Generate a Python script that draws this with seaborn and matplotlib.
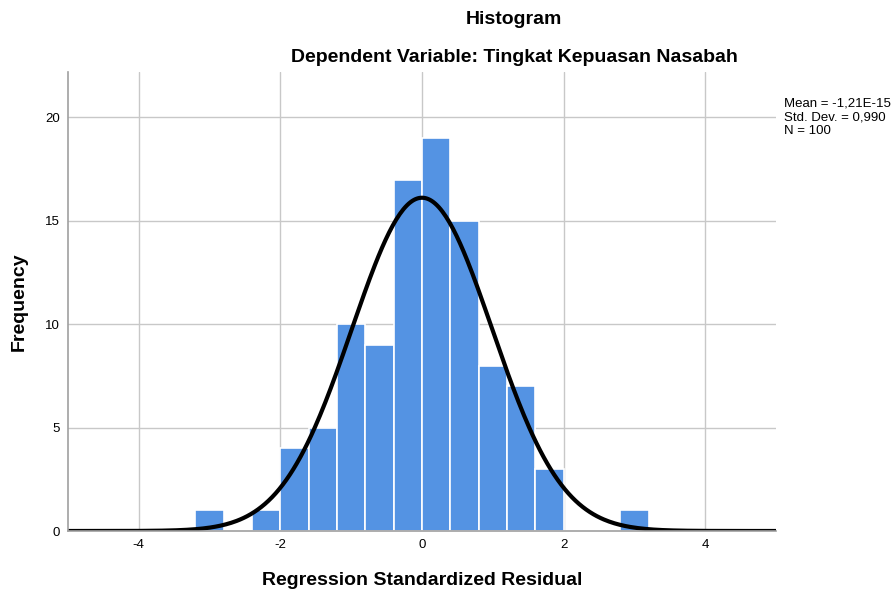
import numpy as np
import pandas as pd
import matplotlib
matplotlib.use("Agg")
import matplotlib.pyplot as plt
import seaborn as sns

# data
bin_edges = [-3.2, -2.8, -2.4, -2.0, -1.6, -1.2, -0.8, -0.4, 0.0, 0.4, 0.8, 1.2, 1.6, 2.0, 2.4, 2.8, 3.2]
counts = [1, 0, 1, 4, 5, 10, 9, 17, 19, 15, 8, 7, 3, 0, 0, 1]
mean_val = -1.21e-15
std_val = 0.990
n_obs = 100
x_ticks = [-4, -2, 0, 2, 4]
y_ticks = [0, 5, 10, 15, 20]

centers = [(a + b) / 2 for a, b in zip(bin_edges[:-1], bin_edges[1:])]
df = pd.DataFrame({"resid": centers, "freq": counts})

sns.set_style("white")
plt.rcParams["font.family"] = ["Liberation Sans", "DejaVu Sans"]
plt.rcParams["axes.unicode_minus"] = False
for k in ["text.color", "axes.labelcolor", "xtick.color", "ytick.color"]:
    plt.rcParams[k] = "black"

fig = plt.figure(figsize=(8.92, 5.93), dpi=100)
ax = fig.add_axes([68 / 892, 1 - 531 / 593, (776 - 68) / 892, (531 - 72) / 593])

ax.set_axisbelow(True)
ax.grid(True, color="#c8c8c8", linewidth=1)

sns.histplot(data=df, x="resid", weights="freq", bins=bin_edges, ax=ax,
             color="#5493e3", alpha=1, edgecolor="white", linewidth=1.2)

# normal curve
bw = bin_edges[1] - bin_edges[0]
xs = np.linspace(-5, 5, 400)
ys = n_obs * bw * np.exp(-0.5 * ((xs - mean_val) / std_val) ** 2) / (std_val * np.sqrt(2 * np.pi))
sns.lineplot(x=xs, y=ys, ax=ax, color="black", linewidth=3)

ax.set_xlim(-5, 5)
ax.set_ylim(0, 22.2)
ax.set_xticks(x_ticks)
ax.set_yticks(y_ticks)
ax.tick_params(length=0, labelsize=9.5, pad=6)
for s in ["top", "right"]:
    ax.spines[s].set_visible(False)
for s in ["left", "bottom"]:
    ax.spines[s].set_color("#a0a0a0")
    ax.spines[s].set_linewidth(1.2)

ax.set_xlabel("Regression Standardized Residual", fontsize=14, fontweight="bold", labelpad=15)
ax.set_ylabel("Frequency", fontsize=14, fontweight="bold", labelpad=12)

fig.text(514 / 892, 1 - 19 / 593, "Histogram", ha="center", va="center",
         fontsize=14, fontweight="bold")
fig.text(514 / 892, 1 - 58 / 593, "Dependent Variable: Tingkat Kepuasan Nasabah",
         ha="center", va="center", fontsize=14, fontweight="bold")
fig.text(784 / 892, 1 - 117 / 593,
         "Mean = -1,21E-15\nStd. Dev. = 0,990\nN = 100",
         ha="left", va="center", fontsize=9.5, linespacing=1.2)

fig.savefig("out.png", dpi=100)
